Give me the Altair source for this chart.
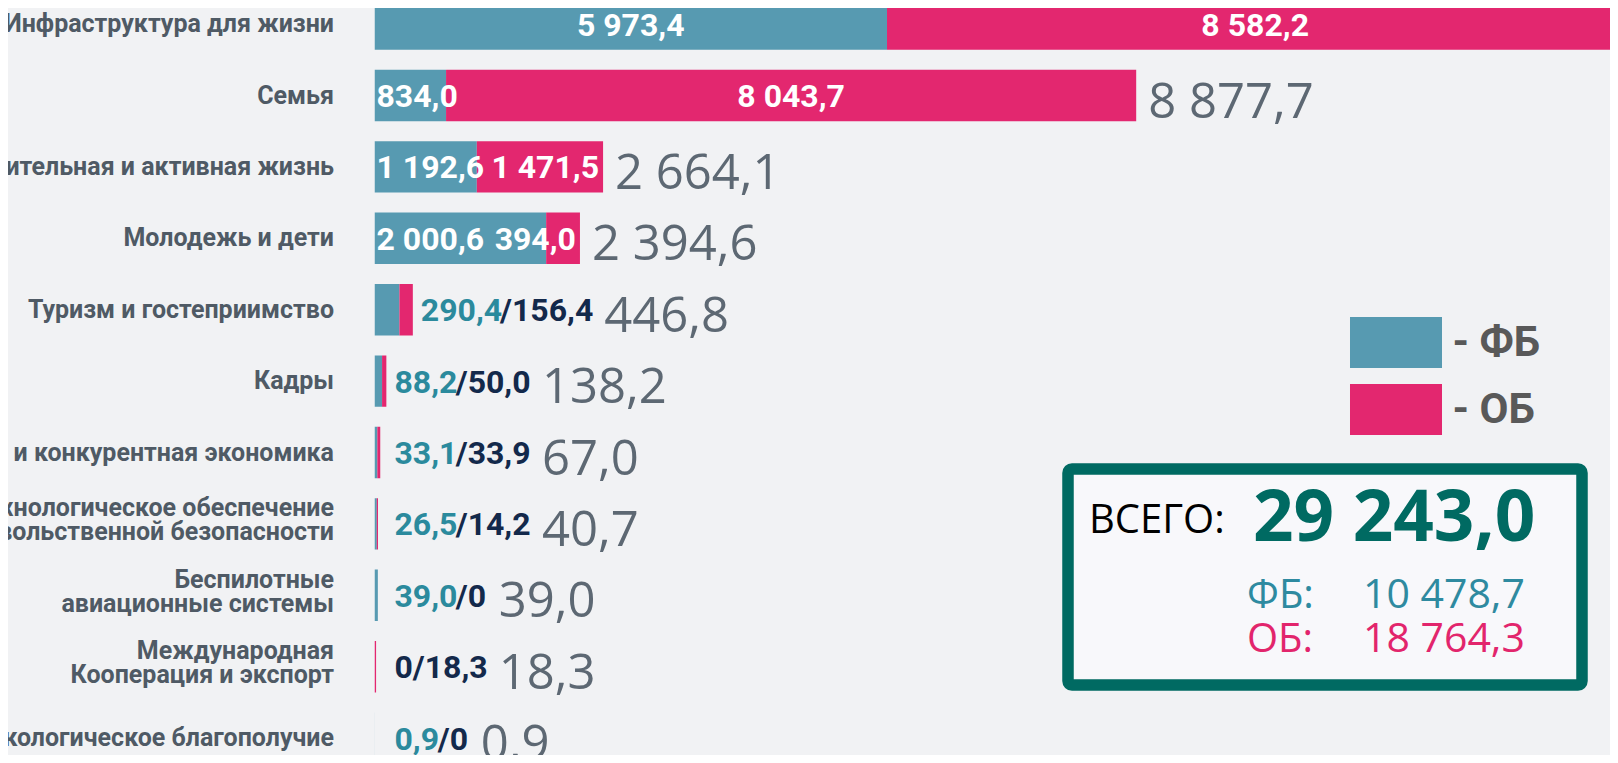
import altair as alt
import pandas as pd

# ---------------- data ----------------
categories = [
    "Инфраструктура для жизни",
    "Семья",
    "Продолжительная  и активная жизнь",
    "Молодежь и дети",
    "Туризм и гостеприимство",
    "Кадры",
    "Эффективная и конкурентная экономика",
    "Технологическое обеспечение\nпродовольственной безопасности",
    "Беспилотные\nавиационные системы",
    "Международная\nКооперация и экспорт",
    "Экологическое благополучие",
]
fb_values = [5973.4, 834.0, 1192.6, 2000.6, 290.4, 88.2, 33.1, 26.5, 39.0, 0.0, 0.9]
ob_values = [8582.2, 8043.7, 1471.5, 394.0, 156.4, 50.0, 33.9, 14.2, 0.0, 18.3, 0.0]
series_names = ["ФБ", "ОБ"]
series_colors = ["#579ab1", "#e3276f"]
summary_labels = ["ВСЕГО:", "ФБ:", "ОБ:"]
summary_values = ["29 243,0", "10 478,7", "18 764,3"]

n = len(categories)
wide = pd.DataFrame({"category": categories, "fb": fb_values, "ob": ob_values})
long = pd.DataFrame({
    "category": categories * 2,
    "series": [series_names[0]] * n + [series_names[1]] * n,
    "value": fb_values + ob_values,
    "s_order": [0] * n + [1] * n,
})
summary = pd.DataFrame({"label": summary_labels, "value": summary_values})

# ---------------- styling ----------------
BOLD = "Roboto"
FS = 32
DW, CW, SW = 0.5615 * FS, 0.23 * FS, 0.405 * FS
PLOT_W, PLOT_H = 1235.5, 747
X_MAX = 14400
K = PLOT_W / X_MAX  # pixels per data unit


def fmt(f):
    return f"replace(replace(format({f}, ',.1f'), ',', ' '), '.', ',')"


x_scale = alt.Scale(domain=[0, X_MAX], nice=False)
y_enc = alt.Y(
    "category:N",
    sort=categories,
    scale=alt.Scale(domain=categories, range=[-19.6, 765.8], paddingInner=0.28, paddingOuter=0.14),
    axis=alt.Axis(
        title=None, domain=False, ticks=False, labelPadding=41,
        labelFont=BOLD, labelFontWeight="bold", labelFontSize=25,
        labelColor="#4f5a65", labelLineHeight=24, labelLimit=1000,
        labelExpr="split(datum.label, '\\n')",
        labelOffset={"condition": {"test": "indexof(datum.value, '\\n') >= 0", "value": -15.5},
                     "value": 0},
    ),
)

stacked = alt.Chart(long).transform_stack(
    stack="value", groupby=["category"], as_=["v0", "v1"],
    sort=[alt.SortField("s_order", order="ascending")],
).transform_joinaggregate(total="sum(value)", groupby=["category"])

bars = stacked.mark_bar(clip=True).encode(
    x=alt.X("v0:Q", scale=x_scale, axis=None),
    x2="v1:Q",
    y=y_enc,
    color=alt.Color(
        "series:N",
        scale=alt.Scale(domain=series_names, range=series_colors),
        legend=alt.Legend(
            title=None, orient="none", legendX=996, legendY=309, direction="vertical",
            symbolType="M-1.804,-1L1.804,-1L1.804,1L-1.804,1Z", symbolSize=2601,
            symbolStrokeWidth=0, symbolOpacity=1,
            labelFont=BOLD, labelFontWeight="bold", labelFontSize=42,
            labelColor="#595959", labelOffset=31, rowPadding=16, padding=0,
            labelExpr="'- ' + datum.label",
        ),
    ),
)

inner_style = dict(baseline="alphabetic", dy=11.5, font=BOLD, fontWeight="bold",
                   fontSize=FS, color="white", clip=True)

center_lbl = stacked.transform_filter(
    "datum.total >= 1000 && datum.value >= 3000"
).transform_calculate(mid="(datum.v0 + datum.v1) / 2", txt=fmt("datum.value")).mark_text(
    align="center", **inner_style
).encode(x=alt.X("mid:Q", scale=x_scale, axis=None), y=y_enc, text="txt:N")

left_lbl = stacked.transform_filter(
    f"datum.total >= 1000 && datum.value < 3000 && datum.series == '{series_names[0]}'"
).transform_calculate(txt=fmt("datum.value")).mark_text(
    align="left", dx=2, **inner_style
).encode(x=alt.X("v0:Q", scale=x_scale, axis=None), y=y_enc, text="txt:N")

right_lbl = stacked.transform_filter(
    f"datum.total >= 1000 && datum.value < 3000 && datum.series == '{series_names[1]}'"
).transform_calculate(txt=fmt("datum.value")).mark_text(
    align="right", dx=-4, **inner_style
).encode(x=alt.X("v1:Q", scale=x_scale, axis=None), y=y_enc, text="txt:N")

# outside labels: "ФБ/ОБ" pair after short bars, then the grey total
base_wide = alt.Chart(wide).transform_calculate(
    total="datum.fb + datum.ob"
).transform_calculate(
    ft=f"datum.fb > 0 ? {fmt('datum.fb')} : ''"
).transform_calculate(
    nt=f"(datum.fb > 0 ? '' : '0') + '/' + (datum.ob > 0 ? {fmt('datum.ob')} : '0')"
).transform_calculate(
    wft=f"datum.fb > 0 ? (length(datum.ft) - 1) * {DW} + {CW} : 0",
    wnt=f"(length(datum.nt) - 1 - (datum.ob > 0 ? 1 : 0)) * {DW} + (datum.ob > 0 ? {CW} : 0) + {SW}",
).transform_calculate(
    start_px=f"max(datum.total * {K} + 8, 20)"
).transform_calculate(
    x_teal=f"datum.start_px / {K}",
    x_navy=f"(datum.start_px + datum.wft) / {K}",
    x_total=f"datum.total >= 1000 ? datum.total + 12 / {K} : (datum.start_px + datum.wft + datum.wnt + 12) / {K}",
)

outer_style = dict(align="left", baseline="alphabetic", dy=11.5, font=BOLD,
                   fontWeight="bold", fontSize=FS)

teal_lbl = base_wide.transform_filter("datum.total < 1000 && datum.fb > 0").mark_text(
    color="#2b8a9d", **outer_style
).encode(x=alt.X("x_teal:Q", scale=x_scale, axis=None), y=y_enc, text="ft:N")

navy_lbl = base_wide.transform_filter("datum.total < 1000").mark_text(
    color="#13294b", **outer_style
).encode(x=alt.X("x_navy:Q", scale=x_scale, axis=None), y=y_enc, text="nt:N")

total_lbl = base_wide.transform_calculate(tt=fmt("datum.total")).mark_text(
    align="left", baseline="alphabetic", dy=22, font="Open Sans", fontSize=49,
    color="#5d6873", clip=True,
).encode(x=alt.X("x_total:Q", scale=x_scale, axis=None), y=y_enc, text="tt:N")

# ---------------- summary box ----------------
box = alt.Chart(pd.DataFrame({"k": [0]})).mark_rect(
    stroke="#006a62", strokeWidth=11.5, cornerRadius=4, fill="#f9f9fb", fillOpacity=0.85
).encode(x=alt.value(693.5), x2=alt.value(1207.5), y=alt.value(461), y2=alt.value(677))


def summary_text(label, field, x, y, color, size, weight="normal"):
    return alt.Chart(summary).transform_filter(f"datum.label == '{label}'").mark_text(
        align="left", baseline="alphabetic", font="Open Sans", fontSize=size,
        fontWeight=weight, color=color,
    ).encode(x=alt.value(x), y=alt.value(y), text=f"{field}:N")


s_all_lbl = summary_text(summary_labels[0], "label", 714.5, 525, "#000000", 40)
s_all_val = summary_text(summary_labels[0], "value", 878.5, 533, "#006a62", 71, "bold")
s_fb_lbl = summary_text(summary_labels[1], "label", 872.5, 600, "#2e8aa0", 40)
s_fb_val = summary_text(summary_labels[1], "value", 988.5, 600, "#2e8aa0", 41)
s_ob_lbl = summary_text(summary_labels[2], "label", 872.5, 644, "#e2256c", 40)
s_ob_val = summary_text(summary_labels[2], "value", 988.5, 644, "#e2256c", 41)

chart = alt.layer(
    bars, center_lbl, left_lbl, right_lbl, teal_lbl, navy_lbl, total_lbl,
    box, s_all_lbl, s_all_val, s_fb_lbl, s_fb_val, s_ob_lbl, s_ob_val,
).properties(
    width=PLOT_W, height=PLOT_H, autosize="none",
    padding={"left": 366.5, "top": 0, "right": 0, "bottom": 0},
    background="#f1f2f4",
).configure_view(stroke=None)

chart.save("out.html", embed_options={"renderer": "svg", "actions": False})
